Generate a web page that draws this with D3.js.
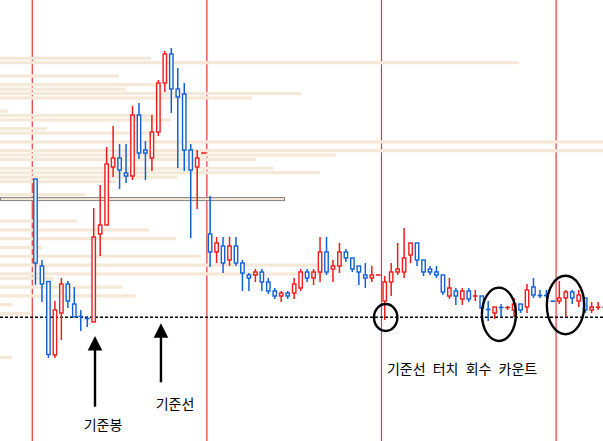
<!DOCTYPE html>
<html><head><meta charset="utf-8">
<script src="https://cdn.jsdelivr.net/npm/d3@7"></script>
<style>html,body{margin:0;padding:0;background:#fff;overflow:hidden}</style>
</head><body><svg id="c" width="603" height="441"></svg>
<script>
// ---- data (price units, candles in time order) ----
const opens  = [262,175,159.5,86,128,157,137,125,123,119,207,216,274,283,268,265,326,291,283,309,358,387,352,347,291,274,288,
                207,189,195,181,195,178,166,166,169,159,150,145,148,148,153,169,163,169,189,172,175,189,183,175,166,163,166,
                140,159,169,169,186,198,181,172,169,166,145,150,142,150,145,145,132,128,134,133,131,137,134,154,146,146,140,
                140,143,149,140,143,131,133.5,134];
const highs  = [262,181,160,140,163,160,154,131,125,233,256,294,315,297,297,335,338,300,326,361,390,393,373,358,297,291,288,
                245,204,204,204,204,181,168,172,172,163,153,150,150,163,172,172,172,204,204,181,198,192,183,175,178,175,166,
                165,178,198,213,198,198,181,175,175,166,163,153,153,153,151,145,140,134,137,135,143,137,157,163,151,151,140,
                160,151,151,151,143,139,139,136];
const lows   = [156,139,83,83,101,133,124,110,114,119,185,216,264,252,258,261,282,261,270,305,349,328,273,270,203,232,288,
                174,178,168,175,175,150,150,159,150,147,142,139,142,142,150,159,156,159,166,159,168,179,169,156,153,159,166,
                121,145,166,163,178,175,165,166,163,146,142,136,136,139,140,127,120,122,124,131,124,128,128,143,143,143,140,
                137,124,137,134,128,128,131,132];
const closes = [178,157,86.5,131,157,140,124,124,122,204,216,277,283,271,265,326,288,288,309,358,387,352,344,291,271,283,288,
                189,198,178,195,178,168,163,169,159,150,145,148,145,157,169,163,169,189,169,175,189,183,172,169,163,166,166,
                159,169,172,183,198,181,169,169,166,149,153,145,150,142,145,133,131,134,133,134,137,131,151,146,145,145,139.5,
                143,149,143,146,131,134,134,133];
const periodStarts = [0, 27, 54, 81];          // candle index where each period begins
const basePrice = 123.7;                        // 기준선
const vpTopPrice = 382.7;                       // price of first volume-profile bin
const vpStep = 4.4;                             // bin size
const vpVolumes = [151,519,0,0,119,0,156,126,301,252,0,0,8,155,171,0,47,152,0,603,0,603,336,256,0,273,320,177,116,0,0,86,
                   284,0,0,0,0,77,0,149,0,176,0,42,0,201,0,346,0,330,54,0,122,0,136,0,12,0,30,0,0,0,0,0,0,0,0,0,12];
const pocBin = 32;
const touchIdx = [54.15, 71.66, 81.96];         // 기준선 터치 구간 (candle index)
const touchPrice = [123.5, 126.7, 136];
const arrowIdx = [9.2, 19.4];
const arrowTip = [105, 117.7];
const arrowTail = [34.3, 58.7];
const labelText = ['기준봉', '기준선', '기준선 터치 회수 카운트'];

// ---- drawing ----
const W = 603, H = 441;
const svg = d3.select('#c');
const x = d3.scaleLinear().domain([0, opens.length - 1]).range([35.5, 604.6]);
const y = d3.scaleLinear().domain([0, 441]).range([441, 0]);
const vx = d3.scaleLinear().domain([0, 603]).range([0, 603]);
const step = x(1) - x(0);
const RED = '#ee1c1c', BLUE = '#1160d6', BEIGE = '#f5e8d6';

// period separators
svg.append('g').selectAll('line').data(periodStarts).join('line')
  .attr('x1', d => x(d) - step / 2).attr('x2', d => x(d) - step / 2)
  .attr('y1', 0).attr('y2', H)
  .attr('stroke', '#e23a3a').attr('stroke-width', 1.2);

// volume profile
const vp = vpVolumes.map((v, k) => ({k, v, p: vpTopPrice - k * vpStep})).filter(d => d.v > 0);
svg.append('g').selectAll('rect').data(vp.filter(d => d.k !== pocBin)).join('rect')
  .attr('x', 0).attr('y', d => y(d.p) - 1.6)
  .attr('width', d => vx(d.v)).attr('height', 3.2)
  .attr('fill', BEIGE);
const poc = vp.find(d => d.k === pocBin);
svg.append('rect').attr('x', 0.5).attr('y', y(poc.p) - 1.5)
  .attr('width', vx(poc.v)).attr('height', 3)
  .attr('fill', BEIGE).attr('stroke', '#808080').attr('stroke-width', 1);

// base line
svg.append('line').attr('x1', 0).attr('x2', W).attr('y1', y(basePrice)).attr('y2', y(basePrice))
  .attr('stroke', '#000').attr('stroke-width', 1.4).attr('stroke-dasharray', '3,2');

// candles
const candles = opens.map((o, i) => ({i, o, h: highs[i], l: lows[i], c: closes[i]}));
const g = svg.append('g').selectAll('g').data(candles).join('g');
g.each(function(d) {
  const col = d.c >= d.o ? RED : BLUE;
  const s = d3.select(this);
  if (d.h > d.l) s.append('line').attr('x1', x(d.i)).attr('x2', x(d.i))
    .attr('y1', y(d.h)).attr('y2', y(d.l)).attr('stroke', col).attr('stroke-width', 1.5);
  const top = y(Math.max(d.o, d.c)), bot = y(Math.min(d.o, d.c));
  if (bot - top < 1.5) {
    s.append('line').attr('x1', x(d.i) - 2.4).attr('x2', x(d.i) + 2.4)
      .attr('y1', (top + bot) / 2).attr('y2', (top + bot) / 2)
      .attr('stroke', col).attr('stroke-width', 1.6);
  } else {
    s.append('rect').attr('x', x(d.i) - 1.7).attr('y', top)
      .attr('width', 3.4).attr('height', bot - top)
      .attr('fill', '#fff').attr('stroke', col).attr('stroke-width', 1.4);
  }
});

// touch circles
const rx = [11.7, 17, 18.7], ry = [13.5, 26.7, 29.3];
svg.append('g').selectAll('ellipse').data(touchIdx).join('ellipse')
  .attr('cx', (d) => x(d)).attr('cy', (d, i) => y(touchPrice[i]))
  .attr('rx', (d, i) => rx[i]).attr('ry', (d, i) => ry[i])
  .attr('fill', 'none').attr('stroke', '#000').attr('stroke-width', 2.4);

// arrows
arrowIdx.forEach((a, i) => {
  const ax = x(a), ty = y(arrowTip[i]), by = y(arrowTail[i]);
  svg.append('line').attr('x1', ax).attr('x2', ax).attr('y1', ty + 12).attr('y2', by)
    .attr('stroke', '#000').attr('stroke-width', 2.4);
  svg.append('path').attr('d', `M${ax},${ty} L${ax - 7.3},${ty + 14.5} L${ax + 7.3},${ty + 14.5} Z`)
    .attr('fill', '#000');
});

// labels
const labelPos = [[x(10.44), 429.5, 'middle'], [x(21.57), 409, 'middle'], [x(54.35), 373.5, 'start']];
svg.append('g').selectAll('text').data(labelText).join('text')
  .attr('x', (d, i) => labelPos[i][0]).attr('y', (d, i) => labelPos[i][1])
  .attr('text-anchor', (d, i) => labelPos[i][2])
  .attr('font-family', '"Noto Sans CJK KR", sans-serif').attr('font-size', 14)
  .attr('word-spacing', 4)
  .attr('fill', '#000').text(d => d);
</script></body></html>
